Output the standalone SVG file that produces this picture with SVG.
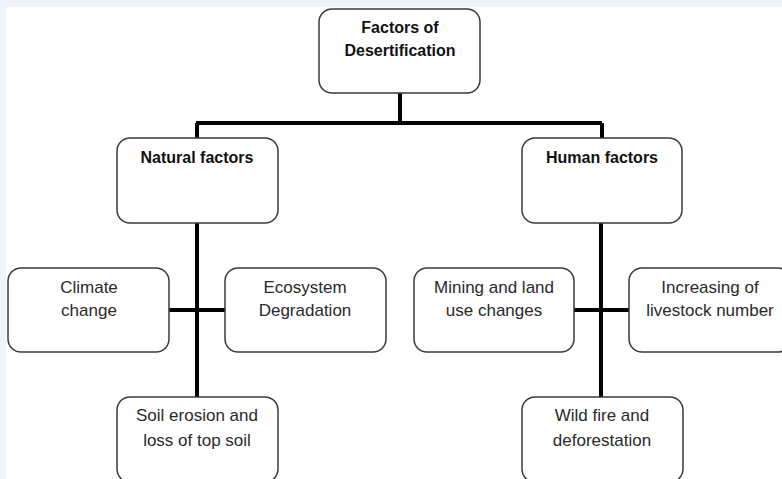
<svg xmlns="http://www.w3.org/2000/svg" width="782" height="479" viewBox="0 0 782 479">
<style>
.box{fill:#fff;stroke:#3a3a3a;stroke-width:1.5}
.t{font-family:"Liberation Sans",Arial,sans-serif;font-size:17px;fill:#2a2a2a;text-anchor:middle}
.b{font-weight:bold;font-size:16px;fill:#111}
.c{stroke:#000;stroke-width:4;fill:none}
</style>
<rect width="782" height="479" fill="#fff"/>
<rect x="0" y="0" width="782" height="7" fill="#eef4fa"/>
<rect x="0" y="0" width="6" height="479" fill="#f0f5fa"/>
<g id="connectors">
<path class="c" d="M400 93V123M196 123H602M197 123V138M602 123V138"/>
<path class="c" d="M197 223V397M169 310H225"/>
<path class="c" d="M601 223V397M574 310H629"/>
</g>
<g id="root"><rect class="box" x="319" y="9" width="161" height="84" rx="13"/>
<text class="t b" x="400" y="33">Factors of</text><text class="t b" x="400" y="56">Desertification</text></g>
<g id="natural"><rect class="box" x="117" y="138" width="161" height="85" rx="13"/>
<text class="t b" x="197" y="163">Natural factors</text></g>
<g id="human"><rect class="box" x="522" y="138" width="160" height="85" rx="13"/>
<text class="t b" x="602" y="163">Human factors</text></g>
<g id="climate"><rect class="box" x="8" y="268" width="161" height="84" rx="13"/>
<text class="t" x="89" y="293">Climate</text><text class="t" x="89" y="316">change</text></g>
<g id="ecosystem"><rect class="box" x="225" y="268" width="161" height="84" rx="13"/>
<text class="t" x="305" y="293">Ecosystem</text><text class="t" x="305" y="316">Degradation</text></g>
<g id="soil"><rect class="box" x="117" y="397" width="161" height="85" rx="13"/>
<text class="t" x="197" y="421">Soil erosion and</text><text class="t" x="197" y="446">loss of top soil</text></g>
<g id="mining"><rect class="box" x="414" y="268" width="160" height="84" rx="13"/>
<text class="t" x="494" y="293">Mining and land</text><text class="t" x="494" y="316">use changes</text></g>
<g id="livestock"><rect class="box" x="629" y="268" width="162" height="84" rx="13"/>
<text class="t" x="710" y="293">Increasing of</text><text class="t" x="710" y="316">livestock number</text></g>
<g id="wildfire"><rect class="box" x="522" y="397" width="161" height="85" rx="13"/>
<text class="t" x="602" y="421">Wild fire and</text><text class="t" x="602" y="446">deforestation</text></g>
</svg>
